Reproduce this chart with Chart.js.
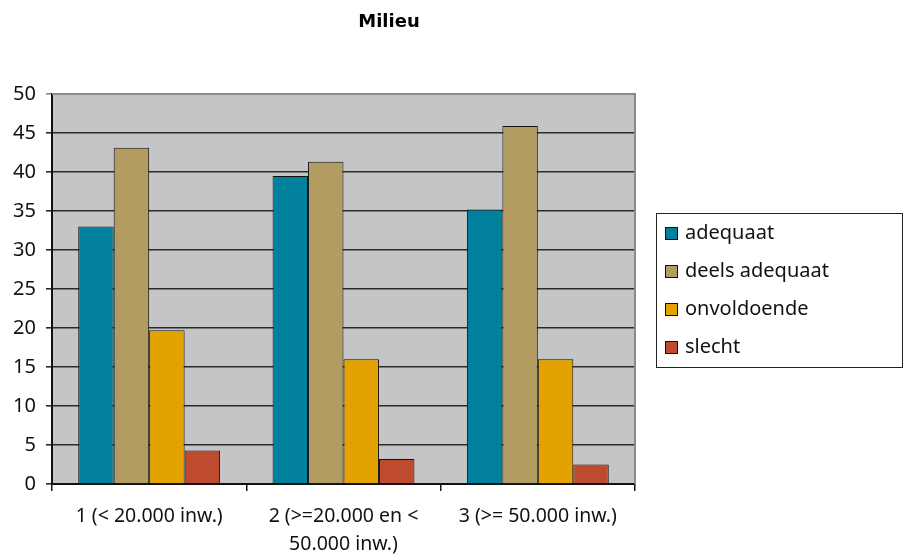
<!DOCTYPE html>
<html>
<head>
<meta charset="utf-8">
<script src="https://cdn.jsdelivr.net/npm/chart.js@4/dist/chart.umd.min.js"></script>
<style>
  html,body{margin:0;padding:0;background:#fff;}
  #wrap{width:904px;height:556px;position:relative;}
</style>
</head>
<body>
<div id="wrap"><canvas id="c" width="904" height="556"></canvas></div>
<script>
const chartTitle = "Milieu";
const categories = [["1 (< 20.000 inw.)"], ["2 (>=20.000 en <", "50.000 inw.)"], ["3 (>= 50.000 inw.)"]];
const seriesNames = ["adequaat", "deels adequaat", "onvoldoende", "slecht"];
const adequaat = [33.0, 39.5, 35.2];
const deelsAdequaat = [43.1, 41.3, 45.9];
const onvoldoende = [19.7, 16.0, 16.0];
const slecht = [4.3, 3.2, 2.5];
const seriesColors = ["#00809A", "#B29C62", "#E3A200", "#BE4B2F"];
const yTicksMin = 0, yTicksMax = 50, yStep = 5;

const FONT = "'Noto Sans', 'DejaVu Sans', sans-serif";
const TFONT = "'DejaVu Sans', sans-serif";

const bgPlugin = {
  id: 'bg',
  beforeDraw(chart) {
    const {ctx, chartArea: a} = chart;
    ctx.save();
    ctx.fillStyle = '#C4C5C7';
    ctx.fillRect(a.left, a.top, a.right - a.left, a.bottom - a.top);
    ctx.restore();
  },
  afterDatasetsDraw(chart) {
    const {ctx, chartArea: a} = chart;
    ctx.save();
    ctx.strokeStyle = '#8a8a8a';
    ctx.lineWidth = 2;
    ctx.beginPath();
    ctx.moveTo(a.left, a.top);
    ctx.lineTo(a.right, a.top);
    ctx.lineTo(a.right, a.bottom);
    ctx.stroke();
    ctx.restore();
  },
  afterDraw(chart) {
    const {ctx} = chart;
    ctx.save();
    // title
    ctx.fillStyle = '#000';
    ctx.font = "bold 18px " + TFONT;
    ctx.textAlign = 'center';
    ctx.textBaseline = 'middle';
    ctx.fillText(chartTitle, 389, 22);
    // legend
    const lx = 656, ly = 213, lw = 247, lh = 155;
    ctx.fillStyle = '#fff';
    ctx.fillRect(lx, ly, lw, lh);
    ctx.strokeStyle = '#222';
    ctx.lineWidth = 1;
    ctx.strokeRect(lx + 0.5, ly + 0.5, lw - 1, lh - 1);
    ctx.font = "20px " + FONT;
    ctx.textAlign = 'left';
    chart.data.datasets.forEach((ds, i) => {
      const cy = 233 + i * 38;
      ctx.fillStyle = ds.backgroundColor;
      ctx.fillRect(665, cy - 6, 12, 12);
      ctx.strokeStyle = '#111';
      ctx.strokeRect(665.5, cy - 5.5, 12, 12);
      ctx.fillStyle = '#111';
      ctx.fillText(ds.label, 685, cy);
    });
    ctx.restore();
  }
};

const seriesData = [adequaat, deelsAdequaat, onvoldoende, slecht];

new Chart(document.getElementById('c'), {
  type: 'bar',
  data: {
    labels: categories,
    datasets: seriesNames.map((n, i) => ({
      label: n,
      data: seriesData[i],
      backgroundColor: seriesColors[i],
      borderColor: '#111',
      borderWidth: 1,
      borderSkipped: 'bottom',
      categoryPercentage: 0.73,
      barPercentage: 1.0
    }))
  },
  options: {
    responsive: false,
    animation: false,
    events: [],
    layout: {padding: {left: 0, top: 94, right: 269, bottom: 0}},
    plugins: {legend: {display: false}, title: {display: false}, tooltip: {enabled: false}},
    scales: {
      x: {
        grid: {display: true, drawOnChartArea: false, drawTicks: true, tickLength: 7, offset: true, color: '#111', lineWidth: 1.5},
        border: {display: true, color: '#111', width: 2},
        ticks: {color: '#111', font: {family: FONT, size: 19.5, lineHeight: 1.45}, padding: 11, maxRotation: 0, autoSkip: false},
        afterFit(s) { s.height = 72; }
      },
      y: {
        min: yTicksMin, max: yTicksMax,
        grid: {color: (c) => (c.tick && c.tick.value === yTicksMax) ? '#8a8a8a' : '#2a2a2a', lineWidth: 1.6, tickLength: 6, drawTicks: true},
        border: {display: true, color: '#111', width: 2},
        ticks: {stepSize: yStep, color: '#111', font: {family: FONT, size: 20}, padding: 10},
        afterFit(s) { s.width = 52; }
      }
    }
  },
  plugins: [bgPlugin]
});
</script>
</body>
</html>
